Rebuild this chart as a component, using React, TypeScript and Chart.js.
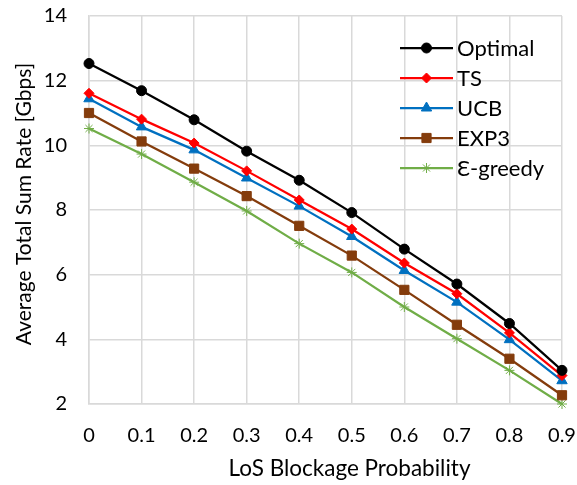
import React, { useEffect, useRef } from "react";
import { Chart, registerables } from "chart.js";
import { drawPoint } from "chart.js/helpers";

Chart.register(...registerables);

const categories = ["0", "0.1", "0.2", "0.3", "0.4", "0.5", "0.6", "0.7", "0.8", "0.9"];
const optimal = [12.53, 11.69, 10.79, 9.82, 8.92, 7.92, 6.79, 5.71, 4.49, 3.04];
const ts = [11.61, 10.81, 10.07, 9.21, 8.31, 7.41, 6.36, 5.41, 4.2, 2.88];
const ucb = [11.44, 10.57, 9.86, 8.99, 8.12, 7.18, 6.13, 5.15, 3.99, 2.72];
const exp3 = [11.0, 10.12, 9.28, 8.43, 7.51, 6.59, 5.53, 4.45, 3.4, 2.27];
const egreedy = [10.52, 9.73, 8.86, 7.97, 6.96, 6.07, 5.0, 4.02, 3.04, 2.0];
const seriesNames = ["Optimal", "TS", "UCB", "EXP3", "Ɛ-greedy"];
const yTitle = "Average Total Sum Rate [Gbps]";
const xTitle = "LoS Blockage Probability";

const FONT = "Lato, 'Open Sans', sans-serif";

const insideLegend = {
  id: "insideLegend",
  afterDatasetsDraw(chart: any) {
    const { ctx, chartArea } = chart;
    const x0 = chartArea.right - 162;
    const lineLen = 53;
    ctx.save();
    chart.data.datasets.forEach((ds: any, i: number) => {
      const y = chartArea.top + 32 + i * 30;
      ctx.strokeStyle = ds.borderColor;
      ctx.lineWidth = ds.borderWidth;
      ctx.beginPath();
      ctx.moveTo(x0, y);
      ctx.lineTo(x0 + lineLen, y);
      ctx.stroke();
      ctx.fillStyle = ds.pointBackgroundColor;
      ctx.strokeStyle = ds.pointBorderColor;
      ctx.lineWidth = 1;
      drawPoint(ctx, { pointStyle: ds.pointStyle, radius: ds.pointRadius, borderWidth: 1, rotation: 0 } as any, x0 + lineLen / 2, y);
      ctx.fillStyle = "#000";
      ctx.font = `22px ${FONT}`;
      ctx.textAlign = "left";
      ctx.textBaseline = "middle";
      ctx.fillText(ds.label, x0 + lineLen + 4, y + 1);
    });
    ctx.restore();
  },
};

const axisTitles = {
  id: "axisTitles",
  afterDraw(chart: any) {
    const { ctx, chartArea } = chart;
    ctx.save();
    ctx.fillStyle = "#000";
    ctx.textAlign = "center";
    ctx.textBaseline = "middle";
    ctx.font = `22.5px ${FONT}`;
    ctx.fillText(xTitle, (chartArea.left + chartArea.right) / 2 + 24, chartArea.bottom + 65);
    ctx.translate(24, (chartArea.top + chartArea.bottom) / 2 - 6);
    ctx.rotate(-Math.PI / 2);
    ctx.font = `21px ${FONT}`;
    ctx.fillText(yTitle, 0, 0);
    ctx.restore();
  },
};

export default function App() {
  const canvasRef = useRef<HTMLCanvasElement | null>(null);

  useEffect(() => {
    document.body.style.margin = "0";
    const canvas = canvasRef.current;
    if (!canvas) return;
    const mk = (label: string, data: number[], color: string, style: string, r: number) => ({
      label,
      data,
      borderColor: color,
      backgroundColor: color,
      pointBackgroundColor: color,
      pointBorderColor: color,
      pointStyle: style,
      pointRadius: r,
      pointBorderWidth: 1,
      borderWidth: 2.25,
      tension: 0,
      clip: false as any,
    });
    const chart = new Chart(canvas, {
      type: "line",
      data: {
        labels: categories,
        datasets: [
          mk(seriesNames[0], optimal, "#000000", "circle", 5),
          mk(seriesNames[1], ts, "#FF0000", "rectRot", 5),
          mk(seriesNames[2], ucb, "#0070C0", "triangle", 6),
          mk(seriesNames[3], exp3, "#843C0C", "rect", 6.5),
          mk(seriesNames[4], egreedy, "#70AD47", "star", 5),
        ],
      },
      options: {
        animation: false,
        responsive: true,
        maintainAspectRatio: false,
        layout: { padding: { left: 0, right: 15, top: 16, bottom: 0 } },
        plugins: { legend: { display: false }, tooltip: { enabled: false } },
        scales: {
          x: {
            type: "category",
            offset: false,
            afterFit: (s: any) => { s.height = 81; s.paddingLeft = 0; s.paddingRight = 0; },
            grid: { color: "#D9D9D9", lineWidth: 1.5, drawTicks: false },
            border: { color: "#D9D9D9", width: 1.5 },
            ticks: { color: "#000", font: { family: FONT, size: 20 }, padding: 20, maxRotation: 0 },
            title: { display: false, text: xTitle },
          },
          y: {
            min: 2,
            max: 14,
            afterFit: (s: any) => { s.width = 89; s.paddingTop = 0; s.paddingBottom = 0; },
            grid: { color: "#D9D9D9", lineWidth: 1.5, drawTicks: false },
            border: { color: "#D9D9D9", width: 1.5 },
            ticks: { stepSize: 2, color: "#000", font: { family: FONT, size: 20 }, padding: 22 },
            title: { display: false, text: yTitle },
          },
        },
      },
      plugins: [insideLegend, axisTitles],
    });
    return () => chart.destroy();
  }, []);

  return (
    <div style={{ position: "relative", width: "577px", height: "485px" }}>
      <canvas ref={canvasRef} />
    </div>
  );
}
